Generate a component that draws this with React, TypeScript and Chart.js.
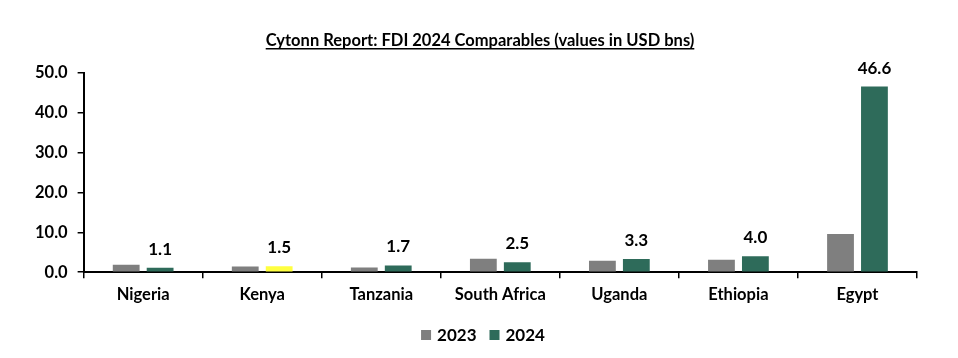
import React, { useEffect, useRef } from "react";
import { Chart, registerables } from "chart.js";

Chart.register(...registerables);

const categories = ["Nigeria", "Kenya", "Tanzania", "South Africa", "Uganda", "Ethiopia", "Egypt"];
const values2023 = [1.9, 1.4, 1.2, 3.4, 2.9, 3.1, 9.6];
const values2024 = [1.1, 1.5, 1.7, 2.5, 3.3, 4.0, 46.6];
const colors2024 = ["#2E6B5A", "#FFFF40", "#2E6B5A", "#2E6B5A", "#2E6B5A", "#2E6B5A", "#2E6B5A"];
const seriesNames = ["2023", "2024"];
const seriesColors = ["#7F7F7F", "#2E6B5A"];
const titleText = "Cytonn Report: FDI 2024 Comparables (values in USD bns)";

const FONT = "Lato, 'Open Sans', sans-serif";

const titlePlugin = {
  id: "underlineTitle",
  afterDraw(chart: any) {
    const ctx = chart.ctx;
    ctx.save();
    ctx.font = `bold 16.5px ${FONT}`;
    ctx.fillStyle = "#000";
    ctx.textAlign = "center";
    ctx.textBaseline = "alphabetic";
    const cx = 480;
    const y = 46;
    ctx.fillText(titleText, cx, y);
    const w = ctx.measureText(titleText).width;
    ctx.fillRect(cx - w / 2, y + 2, w, 1.5);
    ctx.restore();
  },
};

const legendPlugin = {
  id: "customLegend",
  afterDraw(chart: any) {
    const ctx = chart.ctx;
    ctx.save();
    ctx.font = `bold 17px ${FONT}`;
    ctx.textBaseline = "middle";
    ctx.textAlign = "left";
    const cy = 335;
    const box = 10;
    const gap = 6;
    const itemGap = 13;
    const widths = seriesNames.map((n) => box + gap + ctx.measureText(n).width);
    const total = widths.reduce((a, b) => a + b, 0) + itemGap * (seriesNames.length - 1);
    let x = 483 - total / 2;
    seriesNames.forEach((n, i) => {
      ctx.fillStyle = seriesColors[i];
      ctx.fillRect(x, cy - box / 2, box, box);
      ctx.fillStyle = "#000";
      ctx.fillText(n, x + box + gap, cy + 1);
      x += widths[i] + itemGap;
    });
    ctx.restore();
  },
};

const labelPlugin = {
  id: "barLabels",
  afterDatasetsDraw(chart: any) {
    const ctx = chart.ctx;
    const meta = chart.getDatasetMeta(1);
    ctx.save();
    ctx.font = `bold 17px ${FONT}`;
    ctx.fillStyle = "#000";
    ctx.textAlign = "center";
    ctx.textBaseline = "bottom";
    meta.data.forEach((bar: any, i: number) => {
      ctx.fillText(values2024[i].toFixed(1), bar.x, bar.y - 10);
    });
    ctx.restore();
  },
};

export default function App() {
  const ref = useRef<HTMLCanvasElement>(null);
  useEffect(() => {
    document.body.style.margin = "0";
    const chart = new Chart(ref.current!, {
      type: "bar",
      data: {
        labels: categories,
        datasets: [
          {
            label: seriesNames[0],
            data: values2023,
            backgroundColor: seriesColors[0],
            categoryPercentage: 0.57,
            barPercentage: 0.79,
          },
          {
            label: seriesNames[1],
            data: values2024,
            backgroundColor: colors2024,
            categoryPercentage: 0.57,
            barPercentage: 0.79,
          },
        ],
      },
      options: {
        animation: false,
        responsive: false,
        maintainAspectRatio: false,
        layout: { padding: { top: 73, left: 25, right: 41, bottom: 46 } },
        plugins: {
          title: { display: false },
          tooltip: { enabled: false },
          legend: { display: false },
        },
        scales: {
          x: {
            grid: { display: true, drawOnChartArea: false, drawTicks: true, tickLength: 6, color: "#000", lineWidth: 1.5 },
            border: { display: true, color: "#000", width: 2 },
            ticks: { color: "#000", font: { family: FONT, size: 16.5, weight: "bold" }, padding: 7, maxRotation: 0 },
          },
          y: {
            min: 0,
            max: 50,
            grid: { display: true, drawOnChartArea: false, drawTicks: true, tickLength: 6, color: "#000", lineWidth: 1.5 },
            border: { display: true, color: "#000", width: 2 },
            ticks: {
              stepSize: 10,
              color: "#000",
              font: { family: FONT, size: 16.5, weight: "bold" },
              padding: 10,
              callback: (v: any) => Number(v).toFixed(1),
            },
          },
        },
      },
      plugins: [titlePlugin, labelPlugin, legendPlugin],
    });
    return () => chart.destroy();
  }, []);
  return (
    <div style={{ width: 958, height: 358 }}>
      <canvas ref={ref} width={958} height={358} style={{ display: "block" }} />
    </div>
  );
}
